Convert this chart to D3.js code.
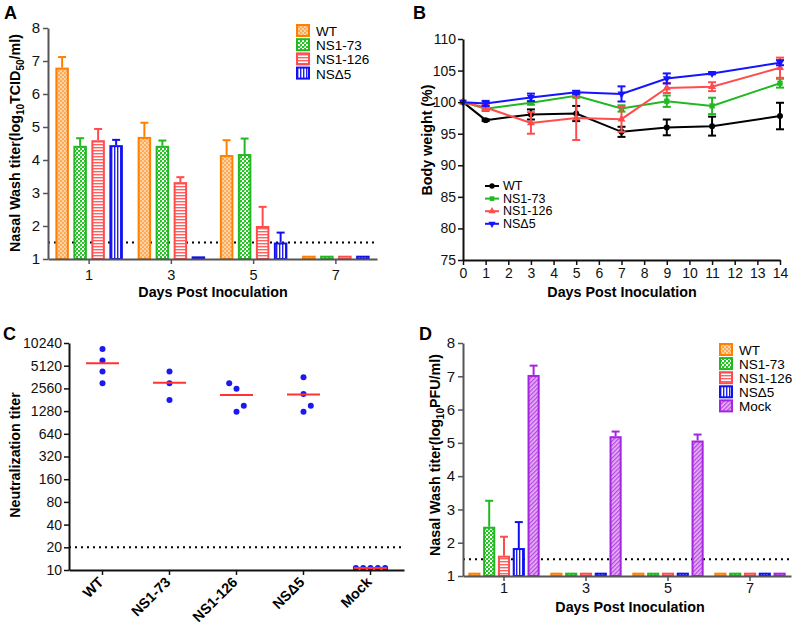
<!DOCTYPE html>
<html><head><meta charset="utf-8">
<script src="https://cdnjs.cloudflare.com/ajax/libs/d3/7.8.5/d3.min.js"></script>
<style>body{margin:0;background:#fff} svg{font-family:"Liberation Sans",Arial,sans-serif}</style>
</head><body><svg id="c" width="800" height="626"></svg>
<script>
// ---------------- DATA ----------------
const seriesNames = ["WT","NS1-73","NS1-126","NSΔ5"];
const seriesNamesD = ["WT","NS1-73","NS1-126","NSΔ5","Mock"];
const daysBar = [1,3,5,7];
// Panel A: nasal wash titer (log10 TCID50/ml), mean and SEM (upper)
const A_WT    = [6.80, 4.70, 4.15, 1.10];
const A_WT_e  = [0.32, 0.43, 0.45, 0];
const A_73    = [4.43, 4.43, 4.18, 1.10];
const A_73_e  = [0.23, 0.16, 0.47, 0];
const A_126   = [4.60, 3.33, 2.00, 1.10];
const A_126_e = [0.34, 0.15, 0.58, 0];
const A_D5    = [4.45, 1.08, 1.50, 1.10];
const A_D5_e  = [0.16, 0, 0.30, 0];
const A_ticks = [1,2,3,4,5,6,7,8];
const A_limit = 1.5;
// Panel B: body weight (%)
const daysB = [0,1,3,5,7,9,11,14];
const B_ticksX = [0,1,2,3,4,5,6,7,8,9,10,11,12,13,14];
const B_ticksY = [75,80,85,90,95,100,105,110];
const B_WT    = [100, 97.15, 98.05, 98.2, 95.3, 96.0, 96.2, 97.8];
const B_WT_e  = [0, 0.15, 0.8, 1.2, 0.8, 1.25, 1.5, 2.1];
const B_73    = [100, 98.95, 99.9, 101.0, 99.0, 100.15, 99.4, 103.0];
const B_73_e  = [0, 0.35, 0.3, 0.3, 0.5, 0.9, 1.3, 0.7];
const B_126   = [100, 99.15, 96.7, 97.5, 97.3, 102.25, 102.45, 105.45];
const B_126_e = [0, 0.4, 1.7, 3.5, 2.0, 0.8, 0.7, 1.6];
const B_D5    = [100, 99.8, 100.75, 101.55, 101.3, 103.75, 104.55, 106.25];
const B_D5_e  = [0, 0.4, 0.6, 0.25, 1.2, 0.8, 0.15, 0.4];
// Panel C: neutralization titers (individual animals) and means
const C_groups = ["WT","NS1-73","NS1-126","NSΔ5","Mock"];
const C_WT   = [8500, 6000, 4300, 3000];
const C_73   = [4300, 3000, 1800];
const C_126  = [3000, 2540, 1510, 1255];
const C_D5   = [3590, 2160, 1510, 1255];
const C_Mock = [10.6, 10.6, 10.6, 10.6, 10.6];
const C_mean = [5500, 3040, 2090, 2130, 10.6];
const C_ticks = [10,20,40,80,160,320,640,1280,2560,5120,10240];
const C_limit = 20;
// Panel D: nasal wash titer (log10 PFU/ml)
const D_WT    = [1.10, 1.10, 1.10, 1.10];
const D_WT_e  = [0, 0, 0, 0];
const D_73    = [2.48, 1.10, 1.10, 1.10];
const D_73_e  = [0.78, 0, 0, 0];
const D_126   = [1.61, 1.10, 1.10, 1.10];
const D_126_e = [0.57, 0, 0, 0];
const D_D5    = [1.84, 1.10, 1.10, 1.10];
const D_D5_e  = [0.78, 0, 0, 0];
const D_Mock  = [7.04, 5.20, 5.07, 1.10];
const D_Mock_e= [0.28, 0.14, 0.18, 0];
const D_limit = 1.5;

// ---------------- STYLE ----------------
const col = {"WT":"#FF8000","NS1-73":"#22B822","NS1-126":"#FF4D4D","NSΔ5":"#1010F0","Mock":"#A526E0"};
const lineCol = {"WT":"#000000","NS1-73":"#22B822","NS1-126":"#FF4D4D","NSΔ5":"#1414FF"};
const patId = {"WT":"pWT","NS1-73":"p73","NS1-126":"p126","NSΔ5":"pD5","Mock":"pMock"};

const svg = d3.select("#c");
const defs = svg.append("defs");
function pattern(id, w, h, bg, rects, rot) {
  const p = defs.append("pattern").attr("id", id).attr("patternUnits","userSpaceOnUse")
    .attr("width", w).attr("height", h);
  if (rot) p.attr("patternTransform", `rotate(${rot})`);
  p.append("rect").attr("width", w).attr("height", h).attr("fill", bg);
  rects.forEach(r => p.append("rect").attr("x", r[0]).attr("y", r[1]).attr("width", r[2]).attr("height", r[3]).attr("fill", r[4]));
}
pattern("pWT", 4, 4, "#FFD3A3", [[0,0,2,2,"#FFAA5A"],[2,2,2,2,"#FFAA5A"]]);
pattern("p73", 4, 4, "#FFFFFF", [[0,0,2,2,"#2CC02C"],[2,2,2,2,"#2CC02C"],[0,2,1,1,"#7FD97F"]]);
pattern("p126", 4, 3, "#FFFFFF", [[0,0,4,1.4,"#FF6060"]]);
pattern("pD5", 3, 4, "#FFFFFF", [[0,0,1.4,4,"#2020F0"]]);
pattern("pMock", 3, 3, "#E9B4F7", [[0,0,1.3,3,"#B448E0"]], 45);

function styleAxis(g, color, fs, bold) {
  g.selectAll("path.domain").attr("stroke", color).attr("stroke-width", 2);
  g.selectAll(".tick line").attr("stroke", color).attr("stroke-width", 1.5);
  g.selectAll(".tick text").attr("fill", "#111").attr("font-size", fs)
    .attr("font-family", '"Liberation Sans",Arial,sans-serif')
    .attr("font-weight", bold ? "bold" : "normal");
}
function panelLetter(t, x, y) {
  svg.append("text").attr("x", x).attr("y", y).text(t).attr("font-size", 18).attr("font-weight", "bold");
}
function xTitle(t, x, y) {
  svg.append("text").attr("x", x).attr("y", y).attr("text-anchor","middle").text(t)
    .attr("font-size", 14.3).attr("font-weight", "bold");
}
function yTitle(parts, x, y) {
  const t = svg.append("text").attr("transform", `translate(${x},${y}) rotate(-90)`)
    .attr("text-anchor","middle").attr("font-size", 14.3).attr("font-weight","bold");
  let shifted = false;
  parts.forEach(p => {
    const ts = t.append("tspan").text(p.t);
    if (p.sub) { ts.attr("dy", 4).attr("font-size", 10); shifted = true; }
    else if (shifted) { ts.attr("dy", -4); shifted = false; }
  });
}

// ---------------- BAR PANEL (A and D) ----------------
function barPanel(cfg) {
  const x = d3.scaleBand().domain(daysBar).range(cfg.xr);
  const y = d3.scaleLinear().domain([1,8]).range(cfg.yr);
  const sub = d3.scaleBand().domain(cfg.series.map(s=>s.name)).range([-cfg.half, cfg.half])
    .paddingInner(cfg.pad).paddingOuter(cfg.pad/2);
  const g = svg.append("g");
  g.append("line").attr("x1", cfg.xr[0]).attr("x2", cfg.xr[1]).attr("y1", y(cfg.limit)).attr("y2", y(cfg.limit))
    .attr("stroke","#000").attr("stroke-width",2).attr("stroke-dasharray","2,4");
  cfg.series.forEach(s => {
    const data = daysBar.map((d,i)=>({d, v:s.v[i], e:s.e[i]}));
    const gs = g.append("g");
    data.filter(o=>o.e>0).forEach(o => {
      const cx = x(o.d) + x.bandwidth()/2 + sub(s.name) + sub.bandwidth()/2;
      gs.append("line").attr("x1",cx).attr("x2",cx).attr("y1",y(o.v)).attr("y2",y(o.v+o.e))
        .attr("stroke",col[s.name]).attr("stroke-width",2);
      gs.append("line").attr("x1",cx-4).attr("x2",cx+4).attr("y1",y(o.v+o.e)).attr("y2",y(o.v+o.e))
        .attr("stroke",col[s.name]).attr("stroke-width",2);
    });
    gs.selectAll("rect.bar").data(data).join("rect").attr("class","bar")
      .attr("x", o => x(o.d) + x.bandwidth()/2 + sub(s.name) + 1)
      .attr("width", sub.bandwidth() - 2)
      .attr("y", o => y(o.v) + 1)
      .attr("height", o => Math.max(0, y(1) - y(o.v) - 1))
      .attr("fill", `url(#${patId[s.name]})`)
      .attr("stroke", col[s.name]).attr("stroke-width", 2);
  });
  const ax = g.append("g").attr("transform", `translate(0,${cfg.yr[0]})`)
    .call(d3.axisBottom(x).tickSize(5).tickSizeOuter(0).tickPadding(cfg.xpad));
  styleAxis(ax, cfg.axisCol, 14.5);
  const ay = g.append("g").attr("transform", `translate(${cfg.xr[0]},0)`)
    .call(d3.axisLeft(y).tickValues(A_ticks).tickFormat(d3.format("d")).tickSize(5).tickSizeOuter(0).tickPadding(3));
  styleAxis(ay, cfg.axisCol, 15);
  const lg = svg.append("g");
  cfg.series.forEach((s,i) => {
    const ly = cfg.leg[1] + i*cfg.legStep;
    lg.append("rect").attr("x", cfg.leg[0]+1).attr("y", ly-6).attr("width", 12).attr("height", 11)
      .attr("fill", `url(#${patId[s.name]})`).attr("stroke", col[s.name]).attr("stroke-width", 2);
    lg.append("text").attr("x", cfg.leg[0]+20).attr("y", ly+5).text(s.name).attr("font-size", 13.5);
  });
}

barPanel({
  xr:[48,377], yr:[259,28], half:36, pad:0.25, limit:A_limit, axisCol:"#555", xpad:6,
  leg:[296,31], legStep:14.2,
  series:[{name:"WT",v:A_WT,e:A_WT_e},{name:"NS1-73",v:A_73,e:A_73_e},
          {name:"NS1-126",v:A_126,e:A_126_e},{name:"NSΔ5",v:A_D5,e:A_D5_e}]
});
panelLetter("A", 4, 19);
xTitle("Days Post Inoculation", 213, 297);
yTitle([{t:"Nasal Wash titer(log"},{t:"10",sub:true},{t:"TCID"},{t:"50",sub:true},{t:"/ml)"}], 20, 143);

barPanel({
  xr:[463,791], yr:[576,343], half:37, pad:0.18, limit:D_limit, axisCol:"#555", xpad:2,
  leg:[719,350], legStep:14.1,
  series:[{name:"WT",v:D_WT,e:D_WT_e},{name:"NS1-73",v:D_73,e:D_73_e},
          {name:"NS1-126",v:D_126,e:D_126_e},{name:"NSΔ5",v:D_D5,e:D_D5_e},{name:"Mock",v:D_Mock,e:D_Mock_e}]
});
panelLetter("D", 419, 340);
xTitle("Days Post Inoculation", 630, 612);
yTitle([{t:"Nasal Wash titer(log"},{t:"10",sub:true},{t:"PFU/ml)"}], 440, 455);

// ---------------- PANEL B ----------------
(function(){
  const x = d3.scaleLinear().domain([0,14]).range([463,780]);
  const y = d3.scaleLinear().domain([75,110]).range([260,39]);
  const g = svg.append("g");
  const series = [
    {name:"WT", v:B_WT, e:B_WT_e, sym:d3.symbolCircle, rot:0},
    {name:"NS1-73", v:B_73, e:B_73_e, sym:d3.symbolSquare, rot:0},
    {name:"NS1-126", v:B_126, e:B_126_e, sym:d3.symbolTriangle, rot:0},
    {name:"NSΔ5", v:B_D5, e:B_D5_e, sym:d3.symbolTriangle, rot:180}
  ];
  const line = d3.line().x(d=>x(d.d)).y(d=>y(d.v));
  series.forEach(s => {
    const data = daysB.map((d,i)=>({d, v:s.v[i], e:s.e[i]}));
    const c = lineCol[s.name];
    g.append("path").datum(data).attr("d", line).attr("fill","none").attr("stroke",c).attr("stroke-width",2);
    data.filter(o=>o.e>0).forEach(o => {
      const cx = x(o.d);
      g.append("line").attr("x1",cx).attr("x2",cx).attr("y1",y(o.v-o.e)).attr("y2",y(o.v+o.e)).attr("stroke",c).attr("stroke-width",2);
      [o.v-o.e, o.v+o.e].forEach(yy => g.append("line").attr("x1",cx-4).attr("x2",cx+4)
        .attr("y1",y(yy)).attr("y2",y(yy)).attr("stroke",c).attr("stroke-width",2));
    });
    g.selectAll(null).data(data).join("path")
      .attr("transform", o=>`translate(${x(o.d)},${y(o.v)}) rotate(${s.rot})`)
      .attr("d", d3.symbol().type(s.sym).size(28)).attr("fill", c);
  });
  const ax = g.append("g").attr("transform","translate(0,260)")
    .call(d3.axisBottom(x).tickValues(B_ticksX).tickFormat(d3.format("d")).tickSize(5).tickSizeOuter(0).tickPadding(3));
  styleAxis(ax, "#111", 14);
  const ay = g.append("g").attr("transform","translate(463,0)")
    .call(d3.axisLeft(y).tickValues(B_ticksY).tickFormat(d3.format("d")).tickSize(5).tickSizeOuter(0).tickPadding(2));
  styleAxis(ay, "#111", 14);
  series.forEach((s,i) => {
    const ly = 186 + i*12.6, c = lineCol[s.name];
    g.append("line").attr("x1",485).attr("x2",499).attr("y1",ly).attr("y2",ly).attr("stroke",c).attr("stroke-width",2);
    g.append("path").attr("transform",`translate(492,${ly}) rotate(${s.rot})`)
      .attr("d", d3.symbol().type(s.sym).size(22)).attr("fill",c);
    g.append("text").attr("x",503).attr("y",ly+4).text(s.name).attr("font-size",12.5);
  });
})();
panelLetter("B", 413, 19);
xTitle("Days Post Inoculation", 622, 297);
yTitle([{t:"Body weight (%)"}], 432, 140);

// ---------------- PANEL C ----------------
(function(){
  const x = d3.scaleBand().domain(C_groups).range([69,404]);
  const y = d3.scaleLog().base(2).domain([10,10240]).range([570,343]);
  const g = svg.append("g");
  g.append("line").attr("x1",69).attr("x2",404).attr("y1",y(C_limit)).attr("y2",y(C_limit))
    .attr("stroke","#000").attr("stroke-width",2).attr("stroke-dasharray","2,4");
  const groups = [C_WT, C_73, C_126, C_D5, C_Mock];
  const r = 3, step = 7.3, minGap = 7;
  groups.forEach((vals, gi) => {
    const cx = x(C_groups[gi]) + x.bandwidth()/2;
    const placed = [];
    let side = 1;
    vals.slice().sort((a,b)=>a-b).forEach(v => {
      const py = y(v);
      let off = 0;
      const collides = o => placed.some(p => Math.abs(p.x - o) < minGap && Math.abs(p.y - py) < minGap);
      if (collides(0)) {
        for (let k = 1; k < 6; k++) {
          if (!collides(side*k*step)) { off = side*k*step; side = -side; break; }
          if (!collides(-side*k*step)) { off = -side*k*step; break; }
        }
      }
      placed.push({x:off, y:py});
    });
    const ext = d3.max(placed, p=>Math.abs(p.x));
    const hw = Math.max(16.5, ext + 2);
    g.selectAll(null).data(placed).join("circle").attr("cx",p=>cx+p.x).attr("cy",p=>p.y).attr("r",r).attr("fill","#1A1AF0");
    g.append("line").attr("x1",cx-hw).attr("x2",cx+hw).attr("y1",y(C_mean[gi])).attr("y2",y(C_mean[gi]))
      .attr("stroke","#FF3333").attr("stroke-width",2);
  });
  const ax = g.append("g").attr("transform","translate(0,570)")
    .call(d3.axisBottom(x).tickSize(5).tickSizeOuter(0).tickFormat(""));
  styleAxis(ax, "#111", 14);
  C_groups.forEach(c => {
    g.append("text").attr("transform",`translate(${x(c)+x.bandwidth()/2+2},583) rotate(-45)`)
      .attr("text-anchor","end").attr("font-size",14.3).attr("font-weight","bold").text(c);
  });
  const ay = g.append("g").attr("transform","translate(69,0)")
    .call(d3.axisLeft(y).tickValues(C_ticks).tickFormat(d3.format("d")).tickSize(5).tickSizeOuter(0).tickPadding(2));
  styleAxis(ay, "#111", 14);
})();
panelLetter("C", 3, 340);
yTitle([{t:"Neutralization titer"}], 20, 455);
</script></body></html>
